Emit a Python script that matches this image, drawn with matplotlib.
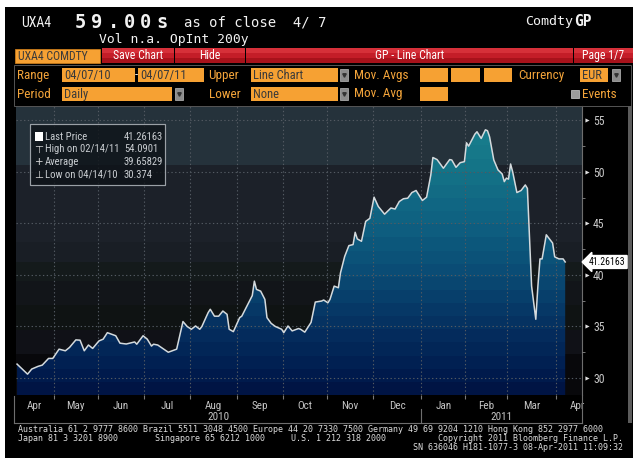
import matplotlib
matplotlib.use('Agg')
import matplotlib.pyplot as plt
import numpy as np
import pandas as pd
from matplotlib.patches import Rectangle
from matplotlib.colors import LinearSegmentedColormap
from matplotlib import font_manager as fm
import matplotlib.transforms as mtransforms

# ---------------- data ----------------
start_date = '2010-04-07'
end_date = '2011-04-07'
# trading-session number (0 = 2010-04-07) and price (EUR)
session = [0, 5, 7, 10, 12, 15, 17, 20, 23, 25, 28, 30, 32, 34, 36, 39, 41, 43, 47, 49,
           52, 56, 57, 60, 62, 64, 65, 67, 71, 72, 76, 79, 81, 83, 85, 87, 88, 91, 92, 94,
           96, 98, 100, 101, 103, 106, 107, 109, 112, 113, 114, 116, 118, 119, 121, 123, 126, 127, 129, 131,
           134, 135, 137, 140, 142, 145, 146, 148, 149, 151, 153, 154, 156, 158, 160, 161, 162, 164, 166, 168,
           170, 172, 175, 178, 180, 182, 184, 186, 188, 190, 193, 195, 197, 198, 200, 203, 206, 207, 209, 211,
           213, 214, 215, 218, 219, 221, 223, 224, 225, 227, 229, 231, 232, 233, 234, 235, 236, 238, 240, 242,
           243, 245, 247, 248, 249, 250, 252, 254, 255, 256, 258, 260, 261]
price = [31.35, 30.374, 30.87, 31.13, 31.25, 31.9, 31.9, 32.8, 32.64, 32.97, 33.7, 33.67, 32.64, 33.2, 32.87, 33.6, 33.77, 34.4, 34.1, 33.38,
         33.3, 33.5, 33.28, 34.1, 33.77, 33.1, 33.28, 33.2, 32.64, 32.5, 32.8, 35.48, 35.0, 34.73, 35.05, 34.73, 35.0, 36.35, 36.67, 36.0,
         36.0, 36.5, 36.18, 34.73, 34.5, 35.86, 36.0, 36.8, 38.0, 39.4, 38.6, 38.43, 37.63, 35.86, 35.3, 35.0, 34.73, 34.4, 35.05, 34.57,
         34.8, 34.73, 34.45, 35.4, 37.37, 37.47, 37.57, 37.3, 37.63, 38.92, 38.76, 40.2, 41.8, 42.85, 42.95, 44.14, 43.5, 43.27, 45.2, 45.5,
         47.55, 46.65, 45.9, 46.5, 46.4, 47.13, 47.4, 47.45, 48.0, 48.2, 47.23, 47.55, 49.7, 51.4, 51.2, 50.36, 51.2, 51.16, 50.45, 50.9,
         51.0, 52.83, 52.5, 53.67, 53.9, 53.25, 54.0901, 54.0, 53.4, 51.16, 50.2, 49.8, 49.06, 49.4, 49.3, 50.77, 50.0, 48.0, 48.2, 48.74,
         48.4, 38.92, 35.7, 38.92, 41.56, 41.56, 43.9, 43.37, 43.1, 41.76, 41.56, 41.56, 41.26163]
y_ticks = [30, 35, 40, 45, 50, 55]
y_minor = [32.5, 37.5, 42.5, 47.5, 52.5]
last_price = 41.26163
last_label = '41.26163'
legend_labels = ['Last Price', 'High on 02/14/11', 'Average', 'Low on 04/14/10']
legend_values = ['41.26163', '54.0901', '39.65829', '30.374']
legend_icons = ['', '\u22a4', '+', '\u22a5']

# ---------------- fonts ----------------
avail = {f.name for f in fm.fontManager.ttflist}
def pick(*names):
    for n in names:
        if n in avail:
            return n
    return 'DejaVu Sans'
NARROW = pick('Liberation Sans Narrow', 'Roboto Condensed', 'Open Sans Condensed', 'Liberation Sans')
MONO = pick('DejaVu Sans Mono', 'Liberation Mono')

W, H = 633, 458
fig = plt.figure(figsize=(W / 100, H / 100), dpi=100, facecolor='white')

def fx(x):
    return x / W

def fy(y):
    return 1 - y / H

def rect(x0, y0, x1, y1, fc, ec='none', lw=0, z=1, alpha=1.0):
    fig.add_artist(Rectangle((fx(x0), fy(y1)), (x1 - x0) / W, (y1 - y0) / H,
                             transform=fig.transFigure, facecolor=fc, edgecolor=ec,
                             linewidth=lw, zorder=z, alpha=alpha))

def text(x, y, s, **kw):
    kw.setdefault('va', 'center')
    kw.setdefault('zorder', 5)
    fig.text(fx(x), fy(y), s, **kw)

def line(xs, ys, color, lw=0.8, z=2):
    fig.add_artist(plt.Line2D([fx(v) for v in xs], [fy(v) for v in ys],
                              transform=fig.transFigure, color=color, lw=lw, zorder=z))

# black screen
rect(5, 7, W, H, 'black', z=-10)

# ---------------- header ----------------
WHITE = '#f2f2f2'
ORANGE = '#f6a133'
OTXT = '#f3a43a'
BOXTXT = '#3a3a3a'
text(21, 23, 'UXA4', color=WHITE, fontsize=10, family=NARROW)
for i, ch in enumerate('59.00s'):
    text(75 + i * 16.2, 22, ch, color=WHITE, fontsize=13.5, family=MONO, fontweight='bold')
text(184, 22, 'as of close  4/ 7', color=WHITE, fontsize=10.0, family=MONO)
text(525, 22, 'Comdty', color=WHITE, fontsize=9.6, family=MONO)
text(574, 22, 'GP', color=WHITE, fontsize=10.5, family=MONO, fontweight='bold')
text(99, 40, 'Vol n.a. OpInt 200y', color=WHITE, fontsize=9.4, family=MONO)

def redbox(x0, x1, label, cx=None):
    rect(x0, 48, x1, 53, '#d63039', z=1)
    rect(x0, 53, x1, 58, '#c41d28', z=1)
    rect(x0, 58, x1, 63, '#a8121b', z=1)
    text((x0 + x1) / 2 if cx is None else cx, 55.5, label, color='white',
         fontsize=8.5, family=NARROW, ha='center')

rect(15, 49, 100, 63, ORANGE, ec='#c87a1a', lw=0.6)
text(18, 56, 'UXA4 COMDTY', color=BOXTXT, fontsize=8.5, family=NARROW)
redbox(102, 174, 'Save Chart')
redbox(175, 245, 'Hide')
redbox(246, 573, 'GP - Line Chart', cx=410)
redbox(574, 633, 'Page 1/7')

# options frame
rect(14, 65, 631, 106, 'none', ec='#555555', lw=0.7, z=1)

def obox(x0, x1, y, label=''):
    rect(x0, y - 7, x1, y + 7, ORANGE, z=2)
    if label:
        text(x0 + 2, y + 0.5, label, color=BOXTXT, fontsize=9, family=NARROW)

def drop(x0, y):
    rect(x0, y - 6, x0 + 8, y + 6, '#8c8c8c', ec='#bdbdbd', lw=0.5, z=2)
    fig.add_artist(plt.Line2D([fx(x0 + 4)], [fy(y)], marker='v', markersize=2.5,
                              color='#333333', transform=fig.transFigure, zorder=3))

r1, r2 = 75, 94
text(17, r1, 'Range', color=OTXT, fontsize=9.5, family=NARROW)
obox(62, 135, r1, '04/07/10')
text(136.5, r1, '-', color=WHITE, fontsize=9, family=NARROW, ha='center')
obox(138, 204, r1, '04/07/11')
text(208, r1, 'Upper', color=OTXT, fontsize=9.5, family=NARROW)
obox(251, 338, r1, 'Line Chart')
drop(340, r1)
text(354, r1, 'Mov. Avgs', color=OTXT, fontsize=9.5, family=NARROW)
obox(420, 448, r1)
obox(451, 480, r1)
obox(484, 512, r1)
text(518, r1, 'Currency', color=OTXT, fontsize=9.5, family=NARROW)
obox(580, 608, r1, 'EUR')
drop(612, r1)

text(17, r2, 'Period', color=OTXT, fontsize=9.5, family=NARROW)
obox(62, 172, r2, 'Daily')
drop(175, r2)
text(209, r2, 'Lower', color=OTXT, fontsize=9.5, family=NARROW)
obox(251, 338, r2, 'None')
drop(340, r2)
text(354, r2, 'Mov. Avg', color=OTXT, fontsize=9.5, family=NARROW)
obox(420, 448, r2)
rect(571, r2 - 4, 579, r2 + 4, '#9a9a9a', ec='#cfcfcf', lw=0.5, z=2)
text(582, r2, 'Events', color=OTXT, fontsize=9.5, family=NARROW)

# ---------------- chart ----------------
AX_L, AX_R, AX_T, AX_B = 16, 582, 106, 395
ax = fig.add_axes([fx(AX_L), fy(AX_B), (AX_R - AX_L) / W, (AX_B - AX_T) / H])
ax.set_facecolor('#08080b')
x0, x1 = -0.5, 269.0
y0, y1 = 28.35, 56.4
ax.set_xlim(x0, x1)
ax.set_ylim(y0, y1)

bands = [(50.7, y1, '#25323b'), (43.2, 50.7, '#1c2129'), (41.3, 43.2, '#191e25'),
         (39.4, 41.3, '#141a1b'), (37.1, 39.4, '#121519'), (34.7, 37.1, '#0f1313'),
         (32.3, 34.7, '#101117'), (y0, 32.3, '#08080b')]
for lo, hi, c in bands:
    ax.axhspan(lo, hi, color=c, zorder=0, lw=0)

# gradient fill below price
cmap = LinearSegmentedColormap.from_list('bbg', [
    (0.0, '#001240'), ((30 - y0) / (y1 - y0), '#001a4c'), ((35 - y0) / (y1 - y0), '#053060'),
    ((40 - y0) / (y1 - y0), '#0a4b74'), ((45 - y0) / (y1 - y0), '#0f6081'),
    ((50 - y0) / (y1 - y0), '#147387'), (1.0, '#1b848f')])
nb = 22
Z = ((np.arange(nb) + 0.5) / nb).reshape(-1, 1)
im = ax.imshow(Z, extent=[x0, x1, y0, y1], origin='lower', aspect='auto', cmap=cmap,
               vmin=0, vmax=1, interpolation='nearest', zorder=1)
fb = ax.fill_between(session, price, y0, facecolor='none', edgecolor='none', zorder=1)
im.set_clip_path(fb.get_paths()[0], transform=ax.transData)
ax.plot(session, price, color='#d4dadd', lw=1.1, zorder=4, solid_joinstyle='round')

# months on trading-day axis
bd = pd.bdate_range('2010-04-01', '2011-04-30')
offset = int(np.where(bd == pd.Timestamp(start_date))[0][0])
pos = np.arange(len(bd)) - offset
per = bd.to_period('M')
month_starts, month_mids, month_names = [], [], []
for p in per.unique():
    idx = pos[per == p]
    if idx[0] > x0:
        month_starts.append(idx[0] - 0.5)
    month_mids.append((max(idx[0], x0) + idx[-1]) / 2)
    month_names.append(p.strftime('%b'))
ax.set_xticks(month_starts)
ax.set_xticklabels([])
ax.tick_params(axis='x', length=3, color='#7a7a7a', direction='out')

ax.set_yticks(y_ticks)
ax.set_yticks(y_minor, minor=True)
ax.yaxis.tick_right()
ax.tick_params(axis='y', which='major', length=0, pad=8, labelcolor='#c8c8c8',
               labelsize=8.5, labelfontfamily=NARROW)
ax.tick_params(axis='y', which='minor', length=2.5, color='#8a8a8a', direction='out')
ax.grid(True, color='#535a62', linestyle=(0, (1.2, 2.2)), lw=0.8)
ax.set_axisbelow(False)
for s in ['left', 'top', 'bottom']:
    ax.spines[s].set_visible(False)
ax.spines['right'].set_color('#6e6e6e')
ax.spines['right'].set_linewidth(0.8)

ytr = mtransforms.blended_transform_factory(ax.transAxes, ax.transData)
ax.scatter([1 + 5 / (AX_R - AX_L)] * len(y_ticks), y_ticks, marker='>', s=9,
           color='#e0e0e0', transform=ytr, clip_on=False, zorder=6, lw=0)

# month / year labels
xtr = mtransforms.blended_transform_factory(ax.transData, ax.transAxes)
for m, name in zip(month_mids, month_names):
    ax.text(m, -11 / (AX_B - AX_T), name, transform=xtr, ha='center', va='center',
            color='#c4c4c4', fontsize=8, family=NARROW, clip_on=False)
jan = [s for s, n in zip(month_starts, month_names[1:]) if n == 'Jan'][0]
for label, (a, b) in zip(['2010', '2011'], [(x0, jan), (jan, x1)]):
    ax.text((a + b) / 2, -22.5 / (AX_B - AX_T), label, transform=xtr, ha='center',
            va='center', color='#c4c4c4', fontsize=8, family=NARROW, clip_on=False)

# x label frame
line([14, 14], [396, 423], '#6e6e6e')
line([14, AX_R], [423, 423], '#6e6e6e')
line([AX_R, AX_R], [395, 423], '#6e6e6e')
jan_px = AX_L + (jan - x0) / (x1 - x0) * (AX_R - AX_L)
line([jan_px, jan_px], [409, 423], '#6e6e6e')
rect(628, 106, 632, 423, '#5c5c5c', z=1)

# last price tag
ax.annotate(last_label, xy=(1 + 3 / (AX_R - AX_L), last_price), xycoords=ytr,
            xytext=(1 + 7 / (AX_R - AX_L), last_price), textcoords=ytr,
            ha='left', va='center', fontsize=7, family=NARROW, color='black',
            bbox=dict(boxstyle='larrow,pad=0.15', fc='white', ec='white'),
            annotation_clip=False, zorder=7)

# legend box
rect(30, 124, 165, 185, '#0e1318', ec='#9aa0a6', lw=0.8, z=3, alpha=0.8)
rect(30, 124, 165, 185, 'none', ec='#9aa0a6', lw=0.8, z=3)
rows_y = [137, 149.5, 162, 174.5]
rect(35, 132, 43, 141, 'white', z=4)
for yv, lab, val, ic in zip(rows_y, legend_labels, legend_values, legend_icons):
    if ic:
        text(39, yv, ic, color='#d8d8d8', fontsize=7.5, ha='center', family='DejaVu Sans')
    text(45, yv, lab, color='#c9cdd1', fontsize=7.7, family=NARROW)
    text(124, yv, val, color='#c9cdd1', fontsize=7.7, family=NARROW)

# footer
FT = dict(color='#dcdcdc', fontsize=6.05, family=MONO)
text(18, 430, 'Australia 61 2 9777 8600 Brazil 5511 3048 4500 Europe 44 20 7330 7500 '
     'Germany 49 69 9204 1210 Hong Kong 852 2977 6000', **FT)
text(18, 438.5, 'Japan 81 3 3201 8900', **FT)
text(155, 438.5, 'Singapore 65 6212 1000', **FT)
text(291, 438.5, 'U.S. 1 212 318 2000', **FT)
text(623, 438.5, 'Copyright 2011 Bloomberg Finance L.P.', ha='right', **FT)
text(623, 447, 'SN 636046 H181-1077-3 08-Apr-2011 11:09:32', ha='right', **FT)

fig.savefig('out.png', dpi=100, facecolor=fig.get_facecolor())
